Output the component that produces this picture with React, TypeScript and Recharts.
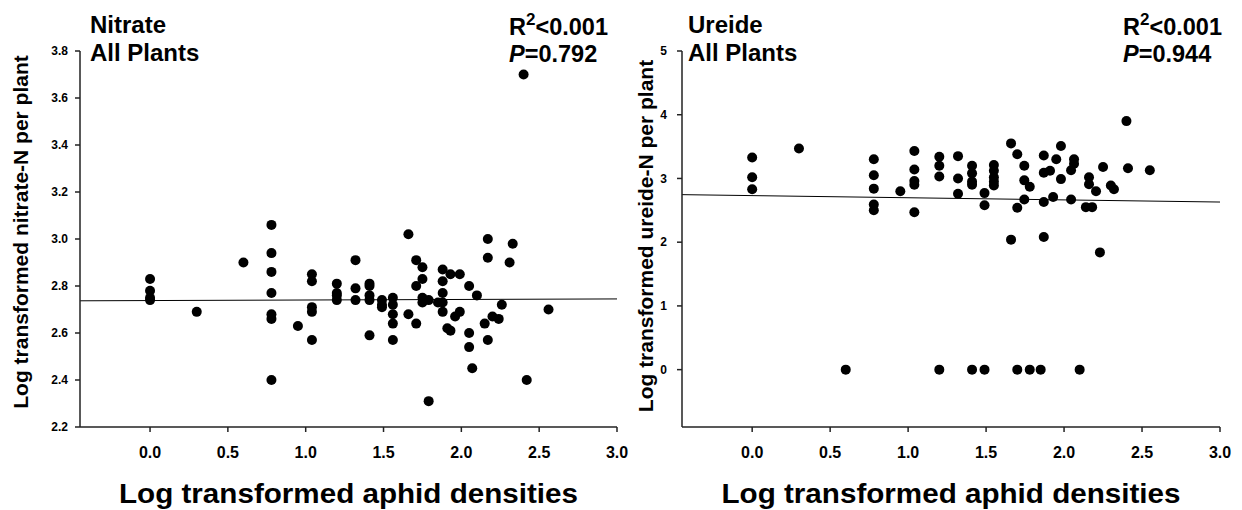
import { ScatterChart, Scatter, XAxis, YAxis, ReferenceLine } from "recharts";

const densityTicks = [0, 0.5, 1, 1.5, 2, 2.5, 3];
const nitrateTicks = [2.2, 2.4, 2.6, 2.8, 3.0, 3.2, 3.4, 3.6, 3.8];
const ureideTicks = [0, 1, 2, 3, 4, 5];

// log aphid density / log nitrate-N per plant
const nitrateDensity = [
  0, 0, 0, 0, 0.3, 0.6,
  0.78, 0.78, 0.78, 0.78, 0.78, 0.78, 0.78,
  0.95, 1.04, 1.04, 1.04, 1.04, 1.04,
  1.2, 1.2, 1.2, 1.2, 1.32, 1.32, 1.32,
  1.41, 1.41, 1.41, 1.41, 1.41, 1.49, 1.49, 1.49,
  1.56, 1.56, 1.56, 1.56, 1.56, 1.66, 1.66, 1.71, 1.71, 1.71,
  1.75, 1.75, 1.75, 1.75, 1.79, 1.79, 1.85,
  1.88, 1.88, 1.88, 1.88, 1.88, 1.91, 1.93, 1.93, 1.96, 1.99, 1.99,
  2.05, 2.05, 2.05, 2.07, 2.1, 2.15, 2.17, 2.17, 2.17,
  2.2, 2.24, 2.26, 2.31, 2.33, 2.4, 2.42, 2.56,
];
const nitrateValue = [
  2.83, 2.78, 2.75, 2.74, 2.69, 2.9,
  3.06, 2.94, 2.86, 2.77, 2.68, 2.66, 2.4,
  2.63, 2.85, 2.82, 2.71, 2.69, 2.57,
  2.81, 2.77, 2.76, 2.74, 2.91, 2.79, 2.74,
  2.81, 2.8, 2.76, 2.74, 2.59, 2.74, 2.72, 2.71,
  2.75, 2.72, 2.68, 2.64, 2.57, 3.02, 2.68, 2.91, 2.8, 2.64,
  2.88, 2.83, 2.75, 2.73, 2.74, 2.31, 2.73,
  2.87, 2.82, 2.77, 2.73, 2.69, 2.62, 2.85, 2.61, 2.67, 2.85, 2.69,
  2.8, 2.6, 2.54, 2.45, 2.76, 2.64, 3.0, 2.92, 2.57,
  2.67, 2.66, 2.72, 2.9, 2.98, 3.7, 2.4, 2.7,
];
const nitrateFit = [2.737, 2.745]; // at density -0.45 and 3.0

// log aphid density / log ureide-N per plant
const ureideDensity = [
  0, 0, 0, 0.3, 0.6,
  0.78, 0.78, 0.78, 0.78, 0.78, 0.95,
  1.04, 1.04, 1.04, 1.04, 1.04,
  1.2, 1.2, 1.2, 1.2, 1.32, 1.32, 1.32,
  1.41, 1.41, 1.41, 1.41, 1.41, 1.49, 1.49, 1.49,
  1.55, 1.55, 1.55, 1.55, 1.55, 1.66, 1.66, 1.7, 1.7, 1.7,
  1.745, 1.745, 1.745, 1.78, 1.78, 1.85,
  1.87, 1.87, 1.87, 1.87, 1.91, 1.93, 1.95, 1.98, 1.98,
  2.045, 2.045, 2.064, 2.064, 2.1, 2.14, 2.16, 2.16, 2.18,
  2.205, 2.23, 2.25, 2.3, 2.32, 2.4, 2.41, 2.55,
];
const ureideValue = [
  3.33, 3.02, 2.83, 3.47, 0,
  3.3, 3.05, 2.84, 2.59, 2.5, 2.8,
  3.43, 3.14, 2.96, 2.9, 2.47,
  3.34, 3.2, 3.03, 0, 3.35, 3.0, 2.76,
  3.2, 3.08, 2.95, 2.9, 0, 2.77, 2.58, 0,
  3.21, 3.12, 3.02, 2.95, 2.89, 3.55, 2.04, 3.38, 2.54, 0,
  3.2, 2.97, 2.67, 2.87, 0, 0,
  3.36, 3.09, 2.63, 2.08, 3.12, 2.71, 3.3, 3.51, 2.99,
  3.13, 2.67, 3.3, 3.23, 0, 2.55, 3.02, 2.91, 2.55,
  2.8, 1.84, 3.18, 2.89, 2.83, 3.9, 3.16, 3.13,
];
const ureideFit = [2.746, 2.63];

const FONT = '"Liberation Sans", Arial, sans-serif';
const AXIS = "#222";
const W = 640;

const dot = (p: any) => <circle cx={p.cx} cy={p.cy} r={5} fill="#000" />;

type PanelProps = {
  left: number;
  xs: number[];
  ys: number[];
  fit: number[];
  yDomain: [number, number];
  yTicks: number[];
  yFormat: (v: number) => string;
  yAxisWidth: number;
  yTickMargin: number;
  plotRight: number;
  nutrient: string;
  titleX: number;
  pValue: string;
  yLabel: string;
  yLabelX: number;
  yLabelY: number;
  statsX: number;
};

function Panel(props: PanelProps) {
  const data = props.xs.map((x, i) => ({ x, y: props.ys[i] }));
  const plotLeft = props.yAxisWidth;
  const tick = { fill: "#000", fontSize: 12, fontWeight: 700, fontFamily: FONT };
  return (
    <div style={{ position: "absolute", left: props.left, top: 0, width: W, height: 510 }}>
      <ScatterChart
        width={W}
        height={510}
        margin={{ top: 51, right: W - props.plotRight, bottom: 0, left: 0 }}
      >
        <XAxis
          type="number"
          dataKey="x"
          domain={[-0.45, 3]}
          ticks={densityTicks}
          tickFormatter={(v: number) => v.toFixed(1)}
          allowDataOverflow
          height={83}
          stroke={AXIS}
          strokeWidth={1.5}
          tickSize={5}
          tickMargin={15}
          tick={{ ...tick, fontSize: 16 }}
        />
        <YAxis
          type="number"
          dataKey="y"
          domain={props.yDomain}
          ticks={props.yTicks}
          tickFormatter={props.yFormat}
          allowDataOverflow
          width={props.yAxisWidth}
          stroke={AXIS}
          strokeWidth={1.5}
          tickSize={5}
          tickMargin={props.yTickMargin}
          tick={tick}
        />
        <ReferenceLine
          segment={[
            { x: -0.45, y: props.fit[0] },
            { x: 3, y: props.fit[1] },
          ]}
          stroke="#000"
          strokeWidth={1}
        />
        <Scatter data={data} shape={dot} isAnimationActive={false} />
      </ScatterChart>
      <svg
        width={W}
        height={510}
        style={{ position: "absolute", left: 0, top: 0, pointerEvents: "none" }}
        fontFamily={FONT}
        fontWeight={700}
      >
        <text x={props.titleX} y={33} fontSize={24}>{props.nutrient}</text>
        <text x={props.titleX} y={61} fontSize={24}>All Plants</text>
        <text x={props.statsX} y={35} fontSize={23.5}>
          R<tspan dy={-10} fontSize={17}>2</tspan>
          <tspan dy={10}>&lt;0.001</tspan>
        </text>
        <text x={props.statsX} y={62} fontSize={23.5}>
          <tspan fontStyle="italic">P</tspan>={props.pValue}
        </text>
        <text
          x={(plotLeft + props.plotRight) / 2}
          y={503}
          fontSize={28}
          textAnchor="middle"
          textLength={459}
          lengthAdjust="spacingAndGlyphs"
        >
          Log transformed aphid densities
        </text>
        <text
          x={props.yLabelX}
          y={props.yLabelY}
          fontSize={21}
          textAnchor="middle"
          transform={`rotate(-90 ${props.yLabelX} ${props.yLabelY})`}
        >
          {props.yLabel}
        </text>
      </svg>
    </div>
  );
}

export default function App() {
  return (
    <div style={{ position: "absolute", left: 0, top: 0, width: 1242, height: 510, overflow: "hidden", background: "#fff" }}>
      <Panel
        left={0}
        xs={nitrateDensity}
        ys={nitrateValue}
        fit={nitrateFit}
        yDomain={[2.2, 3.8]}
        yTicks={nitrateTicks}
        yFormat={(v) => v.toFixed(1)}
        yAxisWidth={80}
        yTickMargin={7}
        plotRight={617}
        nutrient="Nitrate"
        titleX={90}
        pValue="0.792"
        yLabel="Log transformed nitrate-N per plant"
        yLabelX={28}
        yLabelY={232}
        statsX={509}
      />
      <Panel
        left={621}
        xs={ureideDensity}
        ys={ureideValue}
        fit={ureideFit}
        yDomain={[-0.9, 5]}
        yTicks={ureideTicks}
        yFormat={(v) => String(v)}
        yAxisWidth={61}
        yTickMargin={10}
        plotRight={599}
        nutrient="Ureide"
        titleX={67}
        pValue="0.944"
        yLabel="Log transformed ureide-N per plant"
        yLabelX={32}
        yLabelY={236}
        statsX={502}
      />
    </div>
  );
}
